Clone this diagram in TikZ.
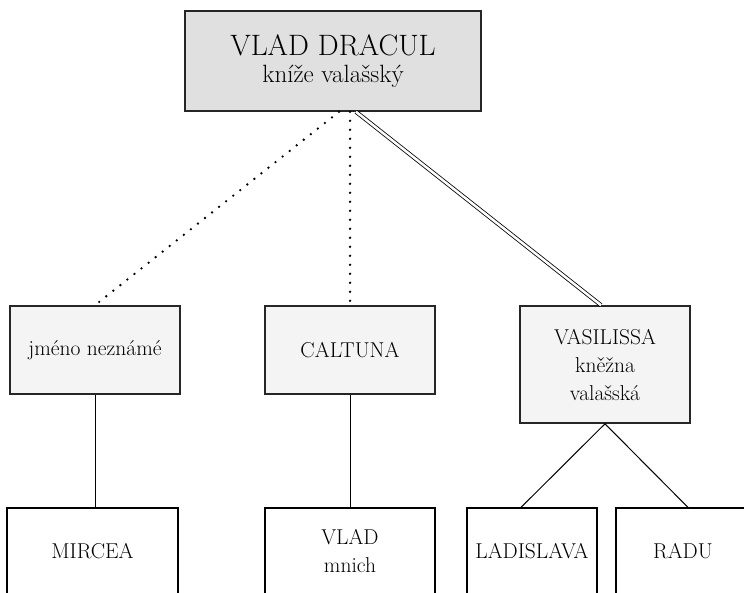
\documentclass[tikz,border=0pt]{standalone}
\usepackage{tikz}
\usetikzlibrary{calc}
\definecolor{topgr}{gray}{0.88}
\definecolor{gr}{gray}{0.955}

\begin{document}
\begin{tikzpicture}[x=1pt, y=-1pt,
  every node/.style={inner sep=0pt, align=center, font=\fontsize{21.5}{28}\selectfont},
  person/.style={draw=black!85, line width=1.6pt, fill=gr, minimum width=170pt, minimum height=88pt},
  child/.style={draw=black, line width=1.2pt, fill=white, minimum height=86pt},
  dots/.style={line width=2.6pt, line cap=round, dash pattern=on 0pt off 9pt}]
\path[use as bounding box, clip] (0,0) rectangle (744,593);
% the prince and his three women
\node[person, fill=topgr, minimum width=296pt, minimum height=100pt, font=\fontsize{25}{27}\selectfont] (dracul) at (333,61) {{\fontsize{29.5}{30}\selectfont VLAD DRACUL}\\kníže valašský};
\node[person] (nezname) at (95,350) {jméno neznámé};
\node[person] (caltuna) at (350,350) {CALTUNA};
\node[person, minimum height=117pt] (vasilissa) at (605,364.5) {VASILISSA\\kněžna\\valašská};
% sons
\foreach \x/\w/\name/\txt in {92.5/171/mircea/MIRCEA, 350/170/vlad/{VLAD\\mnich}, 532/130/ladislava/LADISLAVA, 683/134/radu/RADU}{
\node[child, minimum width=\w pt] (\name) at (\x,551) {\txt};
}
\draw[dots] ($(dracul.south)+(6,0)$) -- (nezname.north);
\draw[dots] (dracul.south -| caltuna.north) -- (caltuna.north);
\draw[line width=0.8pt, double, double distance=2.5pt] ($(dracul.south)+(23,0)$) -- ($(vasilissa.north)+(-4,0)$);
\draw[line width=1pt] (nezname.south) -- (nezname.south |- mircea.north);
\draw[line width=1pt] (caltuna.south) -- (vlad.north);
\draw[line width=1pt] (vasilissa.south) -- ($(ladislava.north)+(-11,0)$);
\draw[line width=1pt] (vasilissa.south) -- ($(radu.north)+(5,0)$);
\end{tikzpicture}
\end{document}
